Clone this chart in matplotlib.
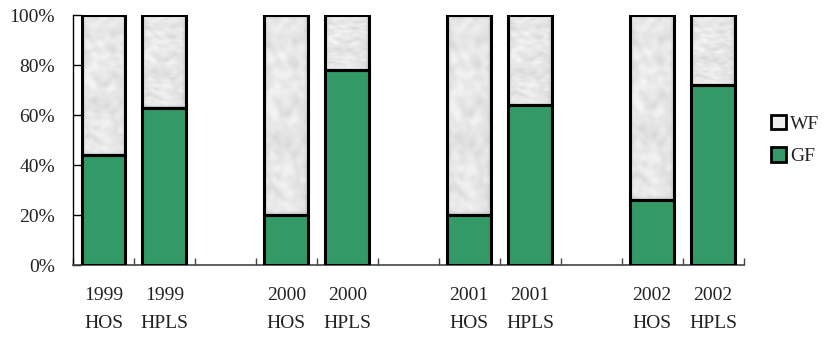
import numpy as np
import matplotlib
matplotlib.use("Agg")
import matplotlib.pyplot as plt
from matplotlib.patches import Patch

plt.rcParams['font.family'] = ['Liberation Serif', 'DejaVu Serif']

years = ["1999", "2000", "2001", "2002"]
schemes = ["HOS", "HPLS"]
gf_share = [44, 63, 20, 78, 20, 64, 26, 72]   # GF, percent of each bar
wf_share = [100 - v for v in gf_share]        # WF, rest of the bar

GREEN = "#339966"
WF_FACE = "#eeeeee"

# bar slots: two bars per year, one empty slot between years
positions = []
labels = []
slot = 0
for y in years:
    for s in schemes:
        positions.append(slot)
        labels.append(f"{y}\n{s}")
        slot += 1
    slot += 1
last_slot = positions[-1]

fig = plt.figure(figsize=(8.24, 3.40), dpi=100)
ax = fig.add_axes([73 / 824, 1 - 265 / 340, (743.5 - 73) / 824, 250 / 340])

width = 0.72
ax.bar(positions, gf_share, width=width, color=GREEN,
       edgecolor="black", linewidth=2.2, zorder=3)
wf_bars = ax.bar(positions, wf_share, width=width, bottom=gf_share,
                 facecolor="none", edgecolor="black", linewidth=2.2, zorder=4)

# mottled light-gray fill for the WF segments
rng = np.random.default_rng(7)
tex = rng.random((160, 40))
for _ in range(2):
    k = np.ones(5) / 5
    tex = np.apply_along_axis(lambda r: np.convolve(r, k, mode="same"), 0, tex)
    tex = np.apply_along_axis(lambda r: np.convolve(r, k, mode="same"), 1, tex)
tex = (tex - tex.min()) / (tex.max() - tex.min())
for rect in wf_bars.patches:
    x0, y0 = rect.get_x(), rect.get_y()
    im = ax.imshow(tex, cmap="gray", vmin=-2.8, vmax=1.15, aspect="auto",
                   extent=(x0, x0 + rect.get_width(), y0, y0 + rect.get_height()),
                   interpolation="bilinear", zorder=2)
    clip = plt.Rectangle((x0, y0), rect.get_width(), rect.get_height(),
                         transform=ax.transData)
    im.set_clip_path(clip)

ax.set_xlim(-0.5, last_slot + 0.5)
ax.set_ylim(0, 100)

ax.set_yticks(np.arange(0, 101, 20))
ax.set_yticklabels([f"{v}%" for v in range(0, 101, 20)])
ax.tick_params(axis="y", direction="in", length=6, width=1, pad=13,
               labelsize=14, colors="black", labelcolor="#222222")

ax.set_xticks(positions)
ax.set_xticklabels(labels, linespacing=1.85)
ax.tick_params(axis="x", which="major", length=0, pad=16,
               labelsize=14, labelcolor="#222222")
ax.set_xticks(np.arange(-0.5, last_slot + 1, 1), minor=True)
ax.tick_params(axis="x", which="minor", direction="in", length=5,
               width=1, color="#444444")

for side in ("top", "right"):
    ax.spines[side].set_visible(False)
ax.spines["left"].set_color("black")
ax.spines["left"].set_linewidth(1)
ax.spines["bottom"].set_color("#444444")
ax.spines["bottom"].set_linewidth(1.2)

handles = [Patch(facecolor=WF_FACE, edgecolor="black", linewidth=2, label="WF"),
           Patch(facecolor=GREEN, edgecolor="black", linewidth=2, label="GF")]
fig.legend(handles=handles, loc="center left", bbox_to_anchor=(771 / 824, 1 - 140 / 340),
           frameon=False, fontsize=14, handlelength=0.75, handleheight=0.75,
           handletextpad=0.25, labelspacing=0.75, borderpad=0, borderaxespad=0,
           labelcolor="#222222")

fig.savefig("out.png", dpi=100)
